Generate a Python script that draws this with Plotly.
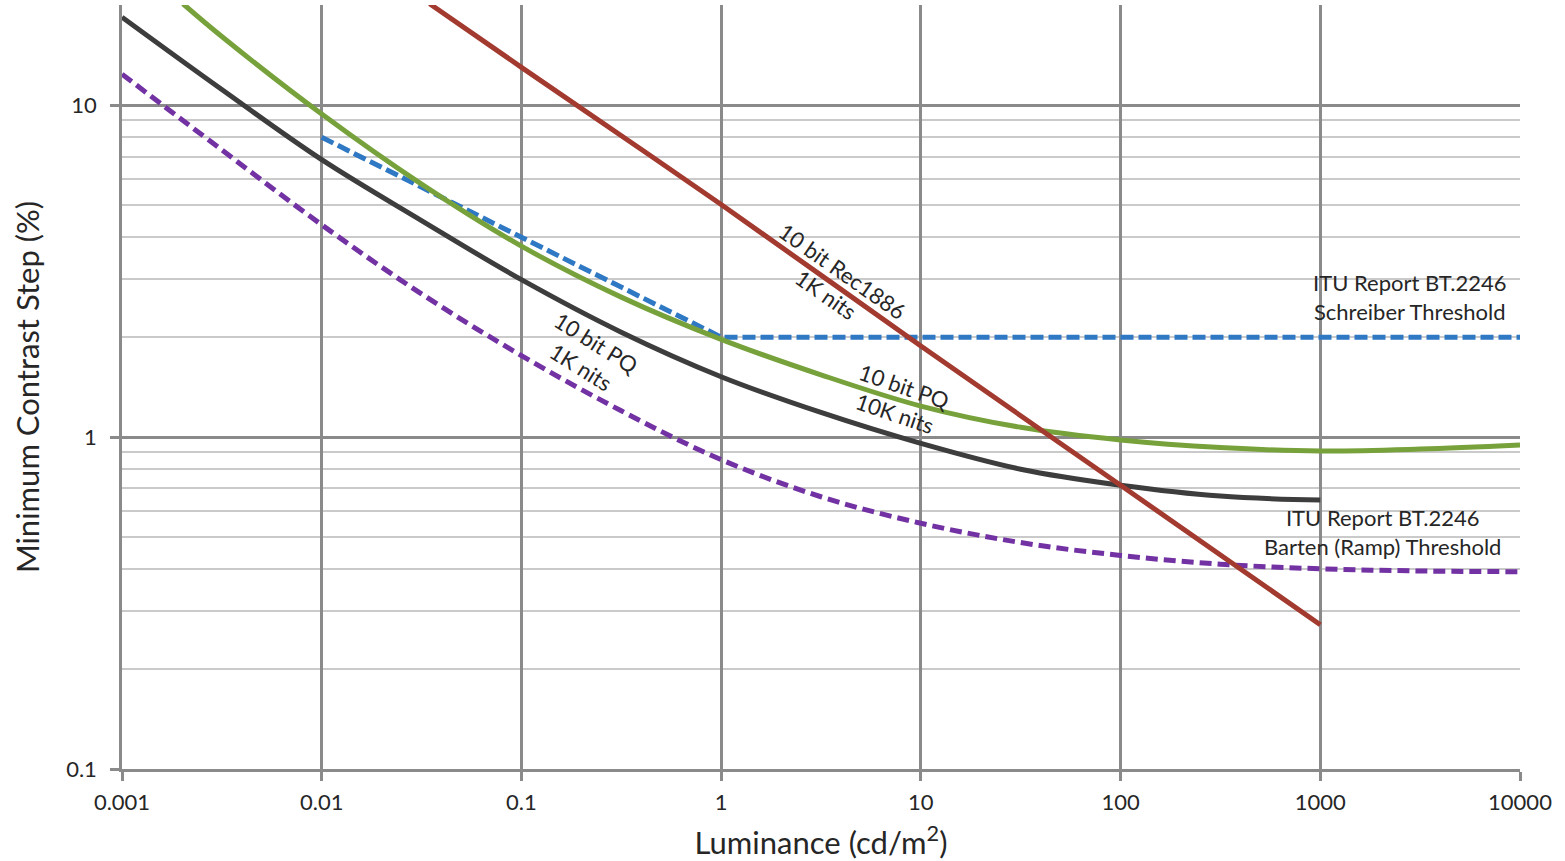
import numpy as np
import plotly.graph_objects as go

# ---- data ----
pq1k_x = [0.001, 0.00316, 0.01, 0.0316, 0.1, 0.316, 1, 3.16, 10, 31.6, 100, 316, 1000]
pq1k_y = [18.4, 11.14, 6.85, 4.49, 2.98, 2.07, 1.52, 1.186, 0.957, 0.80, 0.716, 0.664, 0.646]

pq10k_x = [0.00202, 0.00316, 0.01, 0.0316, 0.1, 0.316, 1, 3.16, 10, 31.6, 100, 316, 1000, 3162, 10000]
pq10k_y = [20.2, 16.1, 9.4, 5.78, 3.76, 2.64, 1.97, 1.54, 1.24, 1.07, 0.98, 0.93, 0.908, 0.92, 0.946]

rec1886_x = [0.0347, 0.1, 1, 10, 100, 1000]
rec1886_y = [20.2, 13.0, 5.02, 1.88, 0.716, 0.272]

schreiber_x = [0.01, 0.1, 1, 10, 100, 1000, 10000]
schreiber_y = [8.0, 4.0, 2.0, 2.0, 2.0, 2.0, 2.0]

barten_x = [0.001, 0.00316, 0.01, 0.0316, 0.1, 0.316, 1, 3.16, 10, 31.6, 100, 316, 1000, 3162, 10000]
barten_y = [12.4, 7.33, 4.36, 2.70, 1.76, 1.20, 0.855, 0.661, 0.55, 0.481, 0.44, 0.414, 0.401, 0.395, 0.393]

x_ticks = [0.001, 0.01, 0.1, 1, 10, 100, 1000, 10000]
x_tick_labels = ["0.001", "0.01", "0.1", "1", "10", "100", "1000", "10000"]
y_ticks = [0.1, 1, 10]
y_tick_labels = ["0.1", "1", "10"]
y_minor = [0.2, 0.3, 0.4, 0.5, 0.6, 0.7, 0.8, 0.9, 2, 3, 4, 5, 6, 7, 8, 9, 20]

FONT = "Lato"
TXT = "#262626"
GRID = "#8a8a8a"
MINOR = "#cacaca"

fig = go.Figure()

def add(x, y, color, dash=None, shape="spline"):
    line = dict(color=color, width=5, dash=dash, shape=shape)
    if shape == "spline":
        line["smoothing"] = 1.0
    fig.add_trace(go.Scatter(x=x, y=y, mode="lines", line=line,
                             hoverinfo="skip", showlegend=False))

add(schreiber_x, schreiber_y, "#2f78c4", "13px,5px", "linear")
add(barten_x, barten_y, "#7332a3", "12px,6px")
add(pq1k_x, pq1k_y, "#3d3d3d")
add(pq10k_x, pq10k_y, "#77a23b")
add(rec1886_x, rec1886_y, "#a33a2f")

ann_font = dict(family=FONT, size=22, color=TXT)
annotations = [
    dict(x=np.log10(3.68), y=np.log10(2.915), text="10 bit Rec1886<br>1K nits", textangle=35),
    dict(x=np.log10(0.2163), y=np.log10(1.768), text="10 bit PQ<br>1K nits", textangle=32),
    dict(x=np.log10(7.83), y=np.log10(1.297), text="10 bit PQ<br>10K nits", textangle=19),
    dict(x=np.log10(2812), y=np.log10(2.635), text="ITU Report BT.2246<br>Schreiber Threshold", textangle=0),
    dict(x=np.log10(2047), y=np.log10(0.519), text="ITU Report BT.2246<br>Barten (Ramp) Threshold", textangle=0),
]
for a in annotations:
    fig.add_annotation(xref="x", yref="y", showarrow=False, align="center",
                       font=ann_font, **a)

fig.update_layout(
    width=1565, height=861,
    margin=dict(l=122, r=45, t=5, b=92, autoexpand=False),
    paper_bgcolor="white", plot_bgcolor="white",
    font=dict(family=FONT, color=TXT),
    xaxis=dict(
        type="log", range=[-3, 4], automargin=False,
        tickmode="array", tickvals=x_ticks, ticktext=x_tick_labels,
        tickfont=dict(family=FONT, size=22, color=TXT),
        ticks="outside", ticklen=9, tickwidth=2.5, tickcolor=GRID,
        ticklabelstandoff=3,
        showgrid=True, gridcolor=GRID, gridwidth=2.5,
        showline=True, linecolor=GRID, linewidth=2.5,
        zeroline=False,
        title=dict(text="Luminance (cd/m<sup>2</sup>)", font=dict(family=FONT, size=31, color=TXT), standoff=26),
    ),
    yaxis=dict(
        type="log", range=[-1, np.log10(20.03)], automargin=False,
        tickmode="array", tickvals=y_ticks, ticktext=y_tick_labels,
        tickfont=dict(family=FONT, size=22, color=TXT),
        ticks="outside", ticklen=9, tickwidth=2.5, tickcolor=GRID,
        ticklabelstandoff=9,
        showgrid=True, gridcolor=GRID, gridwidth=2.5,
        showline=True, linecolor=GRID, linewidth=2.5,
        zeroline=False,
        minor=dict(tickmode="array", tickvals=y_minor, showgrid=True,
                   gridcolor=MINOR, gridwidth=2, ticks=""),
        title=dict(text="Minimum Contrast Step (%)", font=dict(family=FONT, size=31, color=TXT), standoff=18),
    ),
)

fig.write_html("out.html", config={"displayModeBar": False},
               post_script="document.body.style.margin='0px';")
